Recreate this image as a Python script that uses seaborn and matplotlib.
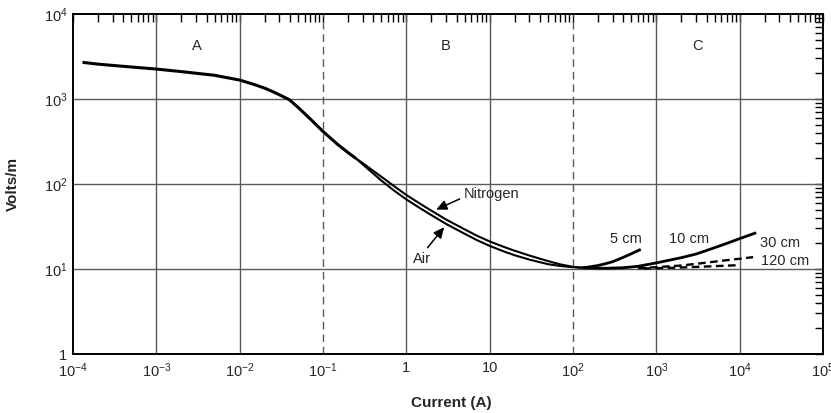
import numpy as np
import pandas as pd
import matplotlib
matplotlib.use("Agg")
import matplotlib.pyplot as plt
from matplotlib.ticker import FixedLocator, LogLocator, NullFormatter
import seaborn as sns

# ---------------- data ----------------
main_x = [1.3e-4, 2e-4, 5e-4, 1e-3, 2e-3, 5e-3, 1e-2, 1.5e-2, 2e-2, 2.5e-2, 3e-2, 3.5e-2,
          3.8e-2, 4e-2, 5e-2, 7e-2, 0.1, 0.15, 0.2, 0.25]
main_y = [2700, 2570, 2380, 2250, 2100, 1900, 1670, 1480, 1340, 1220, 1120, 1040,
          1000, 970, 800, 585, 415, 292, 234, 199]

nit_x = [0.25, 0.3, 0.4, 0.5, 0.7, 1, 1.5, 2, 3, 5, 7, 10, 15, 20, 30, 50, 70, 100, 130]
nit_y = [199, 176, 143, 122, 95.6, 74.3, 57.7, 48.5, 38.2, 29.3, 24.7, 21.1, 18.1, 16.4,
         14.4, 12.4, 11.35, 10.6, 10.35]

air_x = [0.25, 0.3, 0.4, 0.5, 0.7, 1, 1.5, 2, 3, 5, 7, 10, 15, 20, 30, 50, 70, 100, 130]
air_y = [199, 170, 133, 110, 84.7, 65.9, 51.1, 43.0, 33.9, 26.0, 21.9, 18.7, 16.0, 14.5,
         12.9, 11.4, 10.85, 10.5, 10.35]

cm10_x = [130, 170, 250, 400, 600, 1000, 2000, 3000, 5000, 7000, 1e4, 1.58e4]
cm10_y = [10.35, 10.25, 10.2, 10.35, 10.75, 11.8, 13.6, 15.0, 17.8, 20.0, 22.8, 26.7]

cm5_x = [130, 150, 200, 250, 300, 400, 500, 650]
cm5_y = [10.38, 10.5, 11.0, 11.6, 12.2, 13.7, 15.1, 17.0]

cm30_x = [600, 1000, 2000, 3000, 5000, 7000, 1e4, 1.45e4]
cm30_y = [10.25, 10.5, 11.0, 11.5, 12.2, 12.7, 13.2, 13.8]

cm120_x = [700, 1000, 2000, 3000, 5000, 7000, 1e4]
cm120_y = [10.15, 10.22, 10.42, 10.58, 10.8, 10.95, 11.1]

xtick_vals = [1e-4, 1e-3, 1e-2, 1e-1, 1, 10, 1e2, 1e3, 1e4, 1e5]
xtick_labels = [r"$\mathregular{10^{-4}}$", r"$\mathregular{10^{-3}}$", r"$\mathregular{10^{-2}}$",
                r"$\mathregular{10^{-1}}$", "1", "10", r"$\mathregular{10^{2}}$",
                r"$\mathregular{10^{3}}$", r"$\mathregular{10^{4}}$", r"$\mathregular{10^{5}}$"]
ytick_vals = [1, 10, 100, 1000, 10000]
ytick_labels = ["1", r"$\mathregular{10^{1}}$", r"$\mathregular{10^{2}}$",
                r"$\mathregular{10^{3}}$", r"$\mathregular{10^{4}}$"]

solid_vgrid = [1e-3, 1e-2, 1, 10, 1e3, 1e4]
dashed_vgrid = [1e-1, 1e2]
hgrid = [10, 100, 1000]

# ---------------- style ----------------
sns.set_style("white")
plt.rcParams["font.family"] = ["Liberation Sans", "DejaVu Sans"]
plt.rcParams["mathtext.fontset"] = "custom"
plt.rcParams["mathtext.rm"] = "Liberation Sans"
plt.rcParams["mathtext.it"] = "Liberation Sans:italic"
plt.rcParams["mathtext.bf"] = "Liberation Sans:bold"
plt.rcParams["lines.scale_dashes"] = False

fig = plt.figure(figsize=(8.31, 4.13), dpi=100)
ax = fig.add_axes([73 / 831, 1 - 354 / 413, 750 / 831, 340 / 413])
ax.set_xscale("log")
ax.set_yscale("log")
ax.set_xlim(1e-4, 1e5)
ax.set_ylim(1, 1e4)

gcol = "#5a5a5a"
for v in solid_vgrid:
    ax.axvline(v, color=gcol, lw=1.0, zorder=1)
for v in dashed_vgrid:
    ax.axvline(v, color=gcol, lw=1.0, zorder=1, dashes=(5.5, 3.5))
for h in hgrid:
    ax.axhline(h, color=gcol, lw=1.0, zorder=1)

def draw(x, y, lw, dashes=None):
    sns.lineplot(x=x, y=y, ax=ax, color="black", lw=lw, estimator=None, sort=False,
                 legend=False, zorder=3)
    ln = ax.lines[-1]
    ln.set_solid_capstyle("butt")
    ln.set_solid_joinstyle("round")
    if dashes is not None:
        ln.set_dashes(dashes)

draw(main_x, main_y, 2.2)
draw(nit_x, nit_y, 1.5)
draw(air_x, air_y, 1.5)
draw(cm10_x, cm10_y, 2.0)
draw(cm5_x, cm5_y, 2.0)
draw(cm30_x, cm30_y, 1.7, dashes=(5.5, 3.2))
draw(cm120_x, cm120_y, 1.7, dashes=(5.5, 3.2))

# ---------------- ticks ----------------
ax.xaxis.set_major_locator(FixedLocator(xtick_vals))
ax.set_xticklabels(xtick_labels)
ax.yaxis.set_major_locator(FixedLocator(ytick_vals))
ax.set_yticklabels(ytick_labels)
ax.xaxis.set_minor_locator(LogLocator(base=10, subs=np.arange(2, 10), numticks=20))
ax.yaxis.set_minor_locator(LogLocator(base=10, subs=np.arange(2, 10), numticks=20))
ax.xaxis.set_minor_formatter(NullFormatter())
ax.yaxis.set_minor_formatter(NullFormatter())
ax.tick_params(which="both", direction="in", top=True, right=True,
               length=5.5, width=1.0, color="black", labelsize=10.5)
ax.tick_params(axis="x", which="major", pad=5)
ax.tick_params(axis="y", which="major", pad=4)

for s in ax.spines.values():
    s.set_linewidth(1.4)
    s.set_color("black")

ax.set_xlabel("Current (A)", fontsize=11, fontweight="bold")
ax.set_ylabel("Volts/m", fontsize=11, fontweight="bold")
ax.xaxis.set_label_coords(0.5043, -0.125)
ax.yaxis.set_label_coords(-0.0707, 0.5)

# ---------------- annotations ----------------
fs = 10.5
ax.text(3.1e-3, 4200, "A", fontsize=fs, ha="center", va="center")
ax.text(3.0, 4200, "B", fontsize=fs, ha="center", va="center")
ax.text(3.1e3, 4200, "C", fontsize=fs, ha="center", va="center")

ax.annotate("Nitrogen", xy=(2.28, 50), xytext=(4.94, 76), fontsize=fs,
            ha="left", va="center",
            arrowprops=dict(arrowstyle="-|>,head_length=0.6,head_width=0.28",
                            color="black", lw=1.1, shrinkA=1, shrinkB=0,
                            relpos=(0.0, 0.3)))
ax.annotate("Air", xy=(2.84, 31), xytext=(1.21, 13.1), fontsize=fs,
            ha="left", va="center",
            arrowprops=dict(arrowstyle="-|>,head_length=0.6,head_width=0.28",
                            color="black", lw=1.1, shrinkA=1, shrinkB=0,
                            relpos=(0.6, 1.0)))

ax.text(280, 22.5, "5 cm", fontsize=fs, ha="left", va="center")
ax.text(1430, 22.5, "10 cm", fontsize=fs, ha="left", va="center")
ax.text(17700, 20.2, "30 cm", fontsize=fs, ha="left", va="center")
ax.text(18200, 12.4, "120 cm", fontsize=fs, ha="left", va="center")

fig.savefig("out.png", dpi=100)
